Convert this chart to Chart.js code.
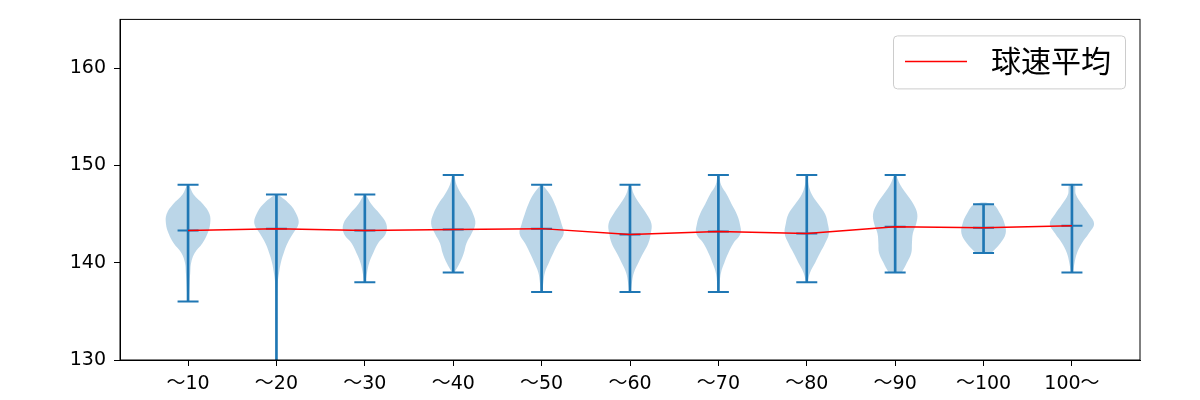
<!DOCTYPE html>
<html>
<head>
<meta charset="utf-8">
<script src="https://cdn.jsdelivr.net/npm/chart.js@4.4.0/dist/chart.umd.min.js"></script>
<style>
  html, body { margin: 0; padding: 0; background: #fff; }
  #wrap { width: 1200px; height: 400px; }
</style>
</head>
<body>
<div id="wrap"><canvas id="chart"></canvas></div>
<script>
// data
const categories = ['〜10', '〜20', '〜30', '〜40', '〜50', '〜60', '〜70', '〜80', '〜90', '〜100', '100〜'];
const maxSpeed = [148, 147, 147, 149, 148, 148, 149, 149, 149, 146, 148];
const minSpeed = [136, 127, 138, 139, 137, 137, 137, 138, 139, 141, 139];
const meanSpeed = [143.3, 143.5, 143.3, 143.4, 143.5, 142.9, 143.2, 143.0, 143.7, 143.6, 143.8];
// relative violin width at each km/h from min to max
const density = [
  [0.03, 0.05, 0.07, 0.1, 0.14, 0.3, 0.65, 0.88, 1.0, 0.97, 0.68, 0.25, 0.03],
  [0.02, 0.02, 0.02, 0.02, 0.02, 0.02, 0.02, 0.03, 0.03, 0.03, 0.04, 0.06, 0.12, 0.2, 0.33, 0.5, 0.75, 1.0, 0.9, 0.6, 0.05],
  [0.03, 0.1, 0.2, 0.38, 0.6, 0.95, 0.97, 0.68, 0.3, 0.03],
  [0.05, 0.3, 0.48, 0.6, 0.83, 1.0, 0.9, 0.68, 0.38, 0.15, 0.03],
  [0.03, 0.08, 0.15, 0.33, 0.53, 0.75, 1.0, 0.9, 0.76, 0.6, 0.38, 0.03],
  [0.03, 0.09, 0.18, 0.38, 0.6, 0.83, 0.94, 0.97, 0.75, 0.45, 0.18, 0.03],
  [0.03, 0.06, 0.12, 0.27, 0.45, 0.68, 1.0, 0.97, 0.83, 0.6, 0.38, 0.12, 0.03],
  [0.03, 0.15, 0.38, 0.6, 0.83, 1.0, 0.95, 0.83, 0.53, 0.23, 0.08, 0.03],
  [0.3, 0.53, 0.73, 0.76, 0.8, 0.95, 1.0, 0.83, 0.53, 0.23, 0.03],
  [0.35, 0.76, 1.0, 0.95, 0.76, 0.4],
  [0.05, 0.12, 0.23, 0.45, 0.76, 1.0, 0.76, 0.45, 0.18, 0.12]
];
const yTicks = [130, 140, 150, 160];

const blue = '#1f77b4';
const halfWidth = 0.25;

// violin outlines: up the right side, back down the left side
const violinSets = density.map((d, i) => {
  const pos = i + 1;
  const right = d.map((w, k) => ({ x: pos + halfWidth * w, y: minSpeed[i] + k }));
  const left = d.map((w, k) => ({ x: pos - halfWidth * w, y: minSpeed[i] + k })).reverse();
  return {
    type: 'line',
    data: right.concat(left),
    fill: 'shape',
    backgroundColor: 'rgba(31,119,180,0.3)',
    borderWidth: 0,
    borderColor: 'rgba(0,0,0,0)',
    pointRadius: 0,
    tension: 0.4,
    order: 5
  };
});

const capStyle = {
  type: 'line',
  showLine: false,
  pointStyle: 'line',
  pointRadius: 10.5,
  pointBorderWidth: 2,
  pointBorderColor: blue,
  order: 3
};

const frame = {
  id: 'frame',
  afterDraw(chart) {
    const { ctx, chartArea: a } = chart;
    ctx.save();
    ctx.strokeStyle = '#000';
    ctx.lineWidth = 1;
    ctx.strokeRect(a.left, a.top, a.right - a.left, a.bottom - a.top);
    ctx.restore();
  }
};

const legendBox = {
  id: 'legendBox',
  afterDraw(chart) {
    const { ctx, chartArea: a } = chart;
    const w = 232, h = 53;
    const x = a.right - 15 - w, y = a.top + 16;
    ctx.save();
    ctx.beginPath();
    ctx.roundRect(x + 0.5, y + 0.5, w, h, 4);
    ctx.fillStyle = 'rgba(255,255,255,0.8)';
    ctx.fill();
    ctx.strokeStyle = '#cccccc';
    ctx.lineWidth = 1;
    ctx.stroke();
    ctx.beginPath();
    ctx.moveTo(x + 12, y + 26);
    ctx.lineTo(x + 74, y + 26);
    ctx.strokeStyle = 'red';
    ctx.lineWidth = 1.5;
    ctx.stroke();
    ctx.fillStyle = '#000';
    ctx.font = '30px "Noto Sans CJK JP"';
    ctx.textBaseline = 'middle';
    ctx.fillText(chart.data.datasets[chart.data.datasets.length - 1].label, x + 98, y + 25);
    ctx.restore();
  }
};

Chart.defaults.font.family = '"DejaVu Sans", "Noto Sans CJK JP", sans-serif';
Chart.defaults.font.size = 19;
Chart.defaults.color = '#000';

new Chart(document.getElementById('chart'), {
  type: 'line',
  data: {
    datasets: [
      ...violinSets,
      {
        type: 'bar',
        data: categories.map((c, i) => ({ x: i + 1, y: [minSpeed[i], maxSpeed[i]] })),
        backgroundColor: blue,
        barThickness: 2,
        order: 4
      },
      { ...capStyle, data: categories.map((c, i) => ({ x: i + 1, y: maxSpeed[i] })) },
      { ...capStyle, data: categories.map((c, i) => ({ x: i + 1, y: minSpeed[i] })) },
      { ...capStyle, data: categories.map((c, i) => ({ x: i + 1, y: meanSpeed[i] })) },
      {
        type: 'line',
        label: '球速平均',
        data: categories.map((c, i) => ({ x: i + 1, y: meanSpeed[i] })),
        borderColor: 'red',
        borderWidth: 1.5,
        pointRadius: 0,
        fill: false,
        tension: 0,
        order: 1
      }
    ]
  },
  options: {
    responsive: true,
    maintainAspectRatio: false,
    animation: false,
    events: [],
    devicePixelRatio: 1,
    layout: { padding: { top: 19, right: 60, left: 0, bottom: 0 } },
    plugins: { legend: { display: false }, tooltip: { enabled: false } },
    scales: {
      x: {
        type: 'linear',
        min: 0.23,
        max: 11.77,
        offset: false,
        afterBuildTicks: axis => { axis.ticks = categories.map((c, i) => ({ value: i + 1 })); },
        afterFit: axis => { axis.height = 40; },
        ticks: {
          autoSkip: false,
          maxRotation: 0,
          padding: 7,
          callback: v => categories[v - 1]
        },
        grid: { offset: false, drawOnChartArea: false, drawTicks: true, tickLength: 6, color: '#000' },
        border: { display: true, color: '#000', width: 1 }
      },
      y: {
        min: 130,
        max: 165,
        afterBuildTicks: axis => { axis.ticks = yTicks.map(v => ({ value: v })); },
        afterFit: axis => { axis.width = 120; },
        ticks: { padding: 8 },
        grid: { drawOnChartArea: false, drawTicks: true, tickLength: 6, color: '#000' },
        border: { display: true, color: '#000', width: 1 }
      }
    }
  },
  plugins: [frame, legendBox]
});
</script>
</body>
</html>
